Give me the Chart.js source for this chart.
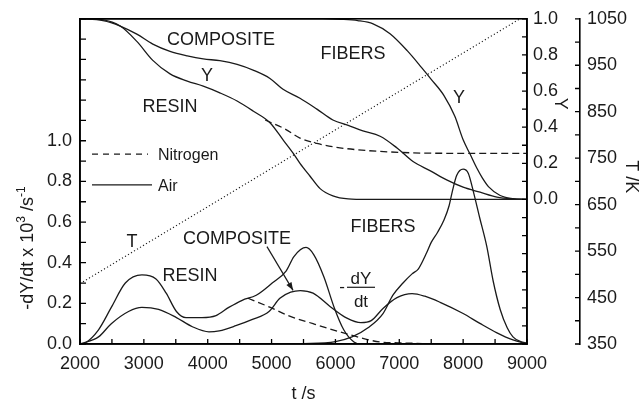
<!DOCTYPE html>
<html><head><meta charset="utf-8">
<script src="https://cdn.jsdelivr.net/npm/chart.js@4/dist/chart.umd.min.js"></script>
<style>html,body{margin:0;padding:0;background:#fff;}canvas{display:block;}</style>
</head><body>
<canvas id="c" width="643" height="401"></canvas>
<script>
// ---------- DATA ----------
// Mass fraction Y (right inner axis)
const resinYAir_t = [2000,2360,2630,2890,3140,3410,3680,3930,4190,4460,4710,4975,5180,5340,5445,5600,5760,5960,6200,6500,9000];
const resinYAir   = [1.0,0.994,0.96,0.875,0.77,0.695,0.655,0.627,0.59,0.545,0.49,0.425,0.33,0.255,0.20,0.13,0.06,0.02,0.003,0,0];
const resinYN2_t  = [4900,5210,5445,5710,6070,6520,7050,7500,9000];
const resinYN2    = [0.44,0.39,0.34,0.31,0.286,0.27,0.26,0.256,0.255];
const compYAir_t  = [2000,2360,2630,2890,3140,3410,3680,3930,4190,4460,4720,4975,5180,5445,5710,5960,6200,6430,6700,6965,7215,7480,7750,8000,8265,8530,8780,9000];
const compYAir    = [1.0,0.99,0.96,0.915,0.86,0.82,0.795,0.778,0.768,0.748,0.715,0.67,0.61,0.56,0.50,0.44,0.41,0.38,0.35,0.285,0.21,0.16,0.107,0.068,0.04,0.013,0.003,0];
const fibYAir_t   = [2000,5800,6100,6350,6590,6855,7120,7350,7500,7700,7870,8000,8110,8220,8300,8400,8580,8780,9000];
const fibYAir     = [1.0,1.0,0.997,0.99,0.972,0.917,0.825,0.73,0.665,0.575,0.46,0.33,0.25,0.17,0.12,0.07,0.022,0.005,0];
// Rate -dY/dt x 10^3 (left axis)
const resinRAir_t = [2000,2080,2290,2490,2710,2970,3190,3350,3510,3660,3910,4130,4330,4540,4760,5010,5230,5350,5540,5660,5820,5980,6130,6290,6400,9000];
const resinRAir   = [0,0.005,0.07,0.18,0.30,0.34,0.32,0.25,0.16,0.13,0.13,0.14,0.18,0.215,0.24,0.30,0.36,0.43,0.475,0.44,0.33,0.18,0.07,0.01,0,0];
const resinRN2_t  = [4630,4980,5260,5650,6180,6700,7100,7500];
const resinRN2    = [0.225,0.18,0.14,0.10,0.05,0.01,0.005,0];
const compRAir_t  = [2000,2290,2490,2760,2970,3230,3510,3760,4020,4180,4440,4690,4960,5130,5300,5450,5650,5915,6180,6400,6560,6745,6964,7200,7400,7640,8000,8270,8530,8780,9000];
const compRAir    = [0,0.035,0.10,0.16,0.18,0.17,0.13,0.085,0.06,0.065,0.09,0.12,0.16,0.225,0.255,0.263,0.25,0.185,0.127,0.105,0.115,0.175,0.228,0.248,0.235,0.205,0.15,0.10,0.055,0.02,0];
const fibRAir_t   = [5000,5500,6000,6260,6510,6745,6900,7058,7200,7300,7430,7500,7600,7700,7780,7830,7900,8000,8080,8160,8260,8370,8470,8580,8690,8780,8900,9000];
const fibRAir     = [0,0.002,0.012,0.035,0.08,0.15,0.24,0.30,0.345,0.37,0.45,0.50,0.55,0.61,0.68,0.75,0.83,0.86,0.84,0.75,0.62,0.48,0.31,0.17,0.08,0.035,0.012,0.005];
// Temperature (far right axis)
const temp_t = [2000,8890];
const tempK  = [480,1050];
// Axis ranges / tick labels
const timeLabels = [2000,3000,4000,5000,6000,7000,8000,9000];
const rateLabels = [0.0,0.2,0.4,0.6,0.8,1.0];
const yLabels    = [0.0,0.2,0.4,0.6,0.8,1.0];
const tLabels    = [350,450,550,650,750,850,950,1050];

// ---------- DRAWING ----------
const FONT = '"Liberation Sans", Arial, Helvetica, sans-serif';
const INK = '#1a1a1a';
const pts = (ts, vs) => ts.map((t, i) => ({x: t, y: vs[i]}));
const line = (ts, vs, axis, dash, w) => ({
  data: pts(ts, vs), yAxisID: axis, borderColor: INK, borderWidth: w || 1.3,
  borderDash: dash || [], pointRadius: 0, fill: false,
  cubicInterpolationMode: 'monotone', tension: 0.4
});

const datasets = [
  line(resinYAir_t, resinYAir, 'yY'),
  line(resinYN2_t, resinYN2, 'yY', [7,4]),
  line(compYAir_t, compYAir, 'yY'),
  line(fibYAir_t, fibYAir, 'yY'),
  line(resinRAir_t, resinRAir, 'yL'),
  line(resinRN2_t, resinRN2, 'yL', [7,4]),
  line(compRAir_t, compRAir, 'yL'),
  line(fibRAir_t, fibRAir, 'yL'),
  Object.assign(line(temp_t, tempK, 'yT', [1.2,2.3], 1.1), {cubicInterpolationMode:'default', tension:0})
];

const near = (v, arr) => arr.some(a => Math.abs(a - v) < 1e-6);
const tickFont = {family: FONT, size: 18};
const noGrid = {display: false, drawTicks: false};
const brd = {display: true, color: '#000', width: 1.6};

const deco = {
  id: 'deco',
  afterDraw(chart) {
    const c = chart.ctx, a = chart.chartArea, s = chart.scales;
    const X = t => s.x.getPixelForValue(t), V = v => s.yL.getPixelForValue(v);
    c.save();
    c.strokeStyle = '#000'; c.lineWidth = 1.6;
    c.strokeRect(a.left, a.top, a.right - a.left, a.bottom - a.top);
    c.lineWidth = 1.3;
    c.beginPath();
    s.x.ticks.forEach(t => { const p = X(t.value); c.moveTo(p, a.bottom); c.lineTo(p, a.bottom - 5); });
    s.yL.ticks.forEach(t => { const p = V(t.value); c.moveTo(a.left, p); c.lineTo(a.left + 6, p); });
    s.yY.ticks.forEach(t => { const p = s.yY.getPixelForValue(t.value); c.moveTo(a.right, p); c.lineTo(a.right - 5, p); });
    s.yT.ticks.forEach(t => { const p = s.yT.getPixelForValue(t.value); c.moveTo(s.yT.left, p); c.lineTo(s.yT.left - 5, p); });
    c.stroke();

    c.fillStyle = INK; c.strokeStyle = INK;
    const txt = (str, t, v, size, align) => {
      c.font = size + 'px ' + FONT; c.textAlign = align || 'center'; c.textBaseline = 'middle';
      c.fillText(str, X(t), V(v));
    };
    txt('COMPOSITE', 4208, 1.497, 18);
    txt('Y', 3989, 1.316, 18);
    txt('RESIN', 3409, 1.164, 18);
    txt('FIBERS', 6275, 1.429, 18);
    txt('Y', 7935, 1.208, 18);
    txt('T', 2814, 0.504, 18);
    txt('COMPOSITE', 4459, 0.514, 18);
    txt('RESIN', 3723, 0.333, 18);
    txt('FIBERS', 6745, 0.577, 18);
    // legend
    c.lineWidth = 1.3;
    c.setLineDash([6,5]); c.beginPath(); c.moveTo(X(2188), V(0.934)); c.lineTo(X(3065), V(0.934)); c.stroke();
    c.setLineDash([]); c.beginPath(); c.moveTo(X(2188), V(0.783)); c.lineTo(X(3128), V(0.783)); c.stroke();
    txt('Nitrogen', 3221, 0.925, 16, 'left');
    txt('Air', 3221, 0.773, 16, 'left');
    // -dY/dt fraction
    txt('-', 6103, 0.279, 17);
    txt('dY', 6400, 0.318, 17);
    txt('dt', 6400, 0.205, 17);
    c.lineWidth = 1.2; c.beginPath(); c.moveTo(X(6181), V(0.279)); c.lineTo(X(6620), V(0.279)); c.stroke();
    // arrow
    const x1 = X(4928), y1 = V(0.479), x2 = X(5336), y2 = V(0.264);
    c.beginPath(); c.moveTo(x1, y1); c.lineTo(x2, y2); c.stroke();
    const ang = Math.atan2(y2 - y1, x2 - x1), L = 8, W = 3;
    c.beginPath(); c.moveTo(x2, y2);
    c.lineTo(x2 - L*Math.cos(ang) + W*Math.sin(ang), y2 - L*Math.sin(ang) - W*Math.cos(ang));
    c.lineTo(x2 - L*Math.cos(ang) - W*Math.sin(ang), y2 - L*Math.sin(ang) + W*Math.cos(ang));
    c.closePath(); c.fill();

    // axis titles
    c.font = '18px ' + FONT; c.textBaseline = 'alphabetic'; c.textAlign = 'center';
    c.fillText('t /s', (a.left + a.right) / 2, 399);
    // left title, rotated
    const parts = [['-dY/dt x 10', 18, 0], ['3', 12, -8], [' /s', 18, 0], ['-1', 12, -8]];
    let total = 0;
    parts.forEach(p => { c.font = p[1] + 'px ' + FONT; total += c.measureText(p[0]).width; });
    c.save(); c.translate(33, 248 + total / 2); c.rotate(-Math.PI / 2); c.textAlign = 'left';
    let off = 0;
    parts.forEach(p => { c.font = p[1] + 'px ' + FONT; c.fillText(p[0], off, p[2]); off += c.measureText(p[0]).width; });
    c.restore();
    // Y title
    c.font = '18px ' + FONT;
    c.save(); c.translate(555, s.yY.getPixelForValue(0.53)); c.rotate(Math.PI / 2); c.textAlign = 'center'; c.fillText('Y', 0, 0); c.restore();
    c.save(); c.translate(626, s.yT.getPixelForValue(710)); c.rotate(Math.PI / 2); c.textAlign = 'center'; c.fillText('T /K', 0, 0); c.restore();
    c.restore();
  }
};

new Chart(document.getElementById('c'), {
  type: 'line',
  data: {datasets},
  options: {
    responsive: false, animation: false, devicePixelRatio: 1,
    layout: {padding: {top: 17, left: 0, right: 0, bottom: 0}},
    plugins: {legend: {display: false}, tooltip: {enabled: false}},
    scales: {
      x: {type: 'linear', position: 'bottom', min: 2000, max: 9000,
        grid: noGrid, border: brd,
        ticks: {stepSize: 500, autoSkip: false, maxRotation: 0, padding: 9, font: tickFont, color: INK,
          callback: v => near(v, timeLabels) ? String(v) : ''},
        afterFit: s => { s.height = 57; }},
      yL: {type: 'linear', position: 'left', min: 0, max: 1.6,
        grid: noGrid, border: brd,
        ticks: {stepSize: 0.1, autoSkip: false, padding: 8, font: tickFont, color: INK,
          callback: v => near(v, rateLabels) ? v.toFixed(1) : ''},
        afterFit: s => { s.width = 80; }},
      yY: {type: 'linear', position: 'right', min: -0.8, max: 1.0, weight: 0,
        grid: noGrid, border: brd,
        ticks: {stepSize: 0.1, autoSkip: false, padding: 6, font: tickFont, color: INK,
          callback: v => near(v, yLabels) ? v.toFixed(1) : ''},
        afterFit: s => { s.width = 53; }},
      yT: {type: 'linear', position: 'right', min: 350, max: 1050, weight: 1,
        grid: noGrid, border: brd,
        ticks: {stepSize: 50, autoSkip: false, padding: 7, font: tickFont, color: INK,
          callback: v => near(v, tLabels) ? String(v) : ''},
        afterFit: s => { s.width = 63; }}
    }
  },
  plugins: [deco]
});
</script>
</body></html>
